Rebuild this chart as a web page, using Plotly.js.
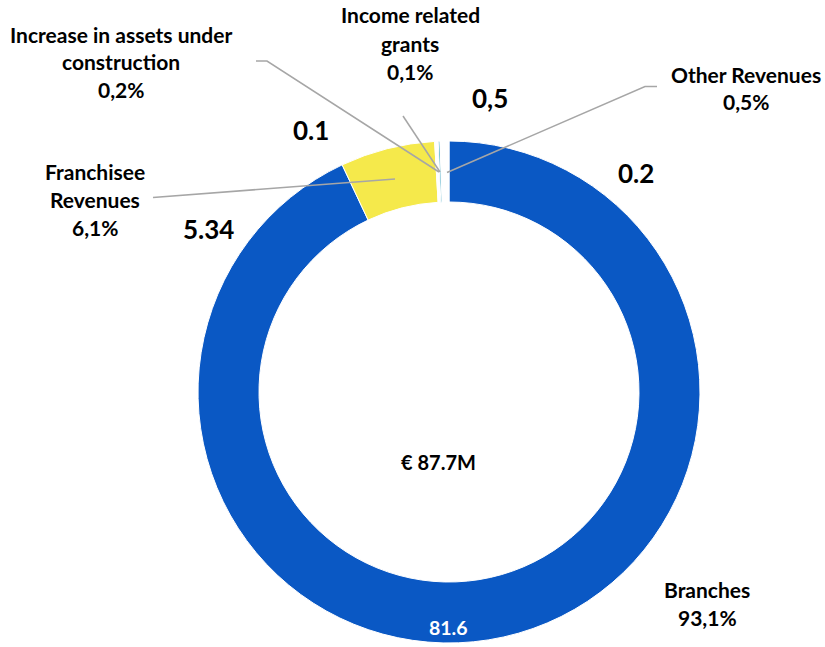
<!DOCTYPE html>
<html>
<head>
<meta charset="utf-8">
<script src="https://cdn.plot.ly/plotly-3.0.1.min.js"></script>
<style>html,body{margin:0;padding:0;background:#fff;overflow:hidden;}#chart{width:825px;height:647px;}</style>
</head>
<body>
<div id="chart"></div>
<script>
// ---- data ----
const categories = ['Branches', 'Franchisee Revenues', 'Increase in assets under construction', 'Income related grants', 'Other Revenues'];
const values = [81.6, 5.34, 0.2, 0.1, 0.5];
const percentLabels = ['93,1%', '6,1%', '0,2%', '0,1%', '0,5%'];
const nameLines = [['Branches'], ['Franchisee', 'Revenues'], ['Increase in assets under', 'construction'], ['Income related', 'grants'], ['Other Revenues']];
const valueTexts = ['81.6', '5.34', '0.1', '0,5', '0.2'];
const centerText = '€ 87.7M';

// ---- style / layout ----
const W = 825, H = 647;
const colors = ['#0A58C4', '#F5E94B', '#FFFFFF', '#4BACC6', '#FFFFFF'];
const FONT = 'Lato, Carlito, Calibri, sans-serif';
const px = x => x / W;
const py = y => 1 - y / H;

const cx = 449, cy = 392, R = 251;

// category label positions (center x, first line y), line step
const labelPos = [[707, 589], [95, 171], [121, 34], [410, 15], [746, 74]];
const lineStep = 28;
// value text positions
const valuePos = [[449, 627], [208, 229], [311, 130], [490, 98], [636, 173]];
const valueColors = ['#FFFFFF', '#000000', '#000000', '#000000', '#000000'];
const valueSizes = [19.5, 26, 26, 26, 26];
// leader lines (pixel polylines) per category (Branches none)
const leaders = [null, [[153, 197.5], [395, 179]], [[256, 61], [267, 61], [439, 172]], [[403, 116], [440, 172]], [[657, 86.5], [645, 86.5], [447, 172.5]]];

const annotations = [];
categories.forEach((c, i) => {
  const lines = nameLines[i].concat([percentLabels[i]]);
  lines.forEach((t, j) => {
    annotations.push({
      x: px(labelPos[i][0]), y: py(labelPos[i][1] + j * lineStep), xref: 'paper', yref: 'paper',
      text: '<b>' + t + '</b>', showarrow: false, xanchor: 'center', yanchor: 'middle',
      font: {family: FONT, size: 21, color: '#000'}
    });
  });
  annotations.push({
    x: px(valuePos[i][0]), y: py(valuePos[i][1]), xref: 'paper', yref: 'paper',
    text: '<b>' + valueTexts[i] + '</b>', showarrow: false, xanchor: 'center', yanchor: 'middle',
    font: {family: FONT, size: valueSizes[i], color: valueColors[i]}
  });
});
annotations.push({
  x: px(438), y: py(462), xref: 'paper', yref: 'paper', text: '<b>' + centerText + '</b>',
  showarrow: false, xanchor: 'center', yanchor: 'middle', font: {family: FONT, size: 20, color: '#000'}
});

const shapes = [];
leaders.forEach(pts => {
  if (!pts) return;
  let path = 'M ' + pts.map(p => px(p[0]) + ',' + py(p[1])).join(' L ');
  shapes.push({type: 'path', xref: 'paper', yref: 'paper', path: path, line: {color: '#A6A6A6', width: 1.5}});
});

const trace = {
  type: 'pie', labels: categories, values: values, sort: false, direction: 'clockwise', rotation: 0,
  hole: 0.757, textinfo: 'none', hoverinfo: 'none',
  marker: {colors: colors, line: {color: '#FFFFFF', width: 1}},
  domain: {x: [px(cx - R), px(cx + R)], y: [py(cy + R), py(cy - R)]},
  showlegend: false
};

Plotly.newPlot('chart', [trace], {
  width: W, height: H, margin: {l: 0, r: 0, t: 0, b: 0},
  paper_bgcolor: '#fff', plot_bgcolor: '#fff', showlegend: false,
  annotations: annotations, shapes: shapes
}, {displayModeBar: false, staticPlot: true});
</script>
</body>
</html>
